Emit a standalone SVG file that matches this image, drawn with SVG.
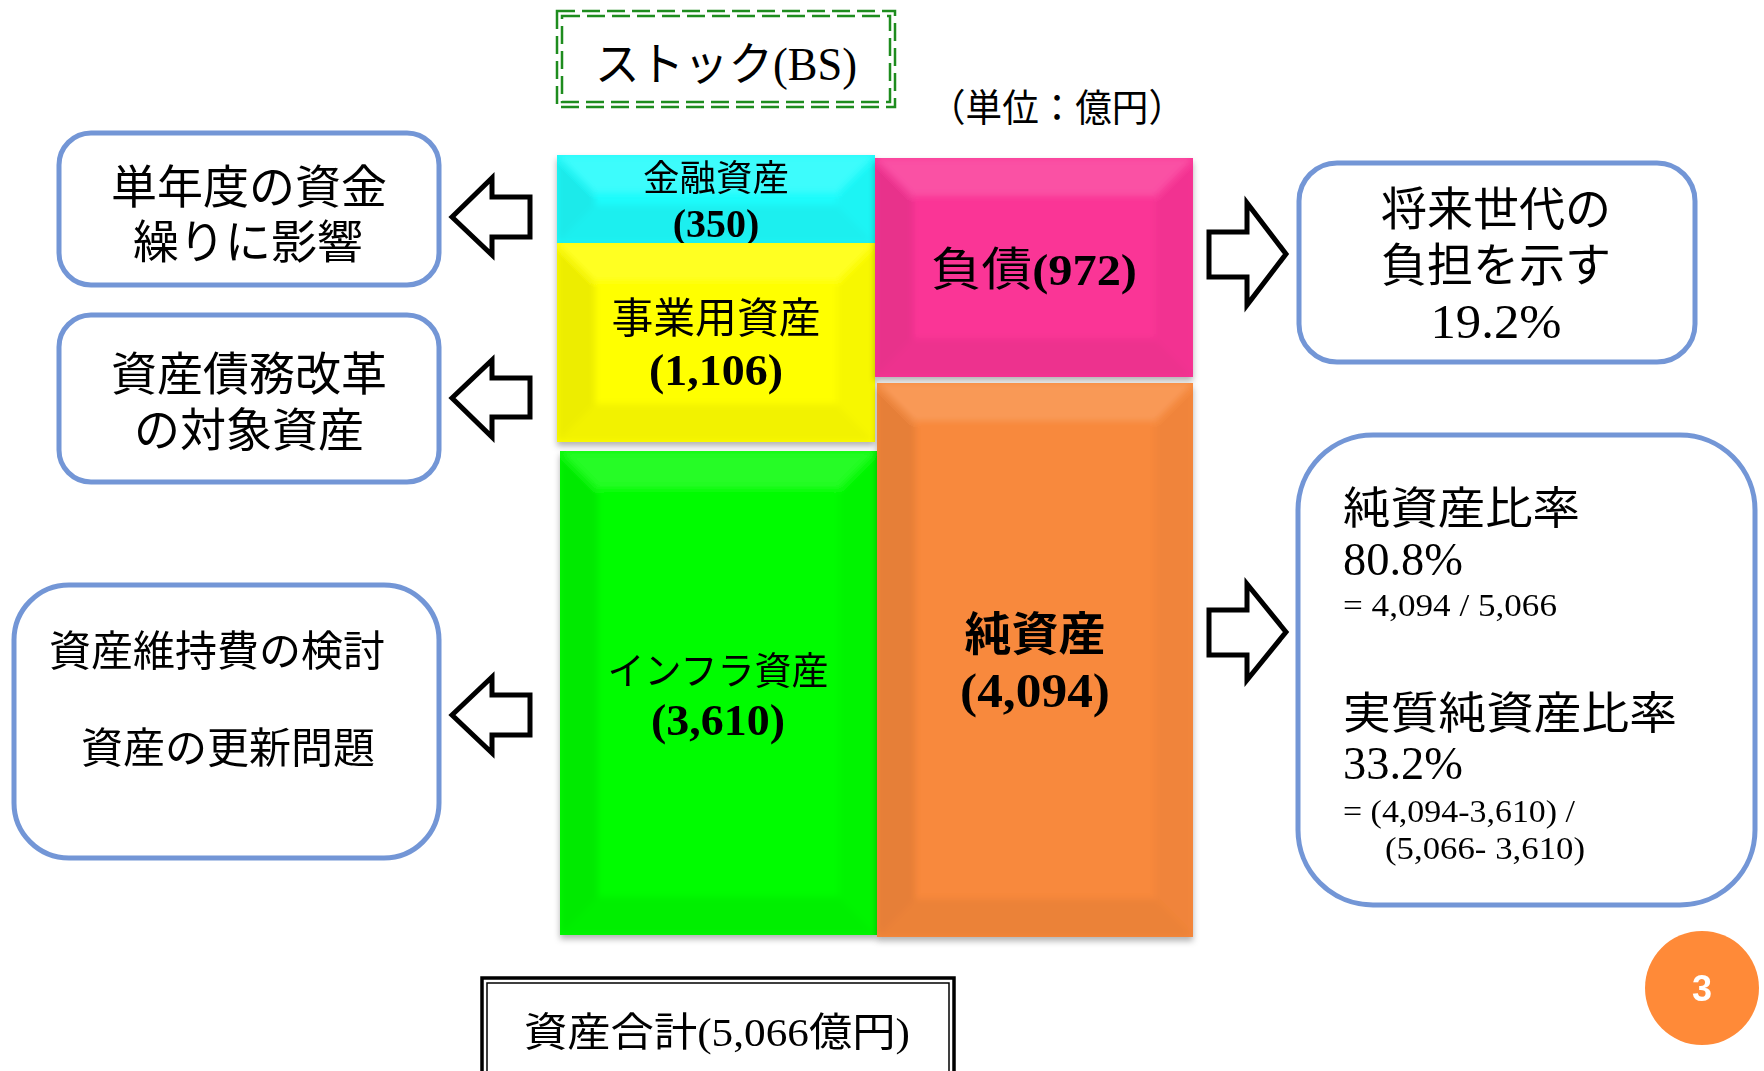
<svg xmlns="http://www.w3.org/2000/svg" width="1764" height="1071" viewBox="0 0 1764 1071">
<style>
text{font-family:"Liberation Serif","Noto Sans CJK JP",serif;fill:#000}
.note{fill:#fff;stroke:#7396D6;stroke-width:5}
.arr{fill:#fff;stroke:#000;stroke-width:5;stroke-linejoin:miter}
.bl{fill:#000;opacity:.07}
.br{fill:#000;opacity:.03}
.bt{fill:#fff;opacity:.14}
.bb{fill:#000;opacity:.05}
.bev{filter:url(#soft)}
.num{font-weight:bold}
.dash{fill:none;stroke:#1E8C1E;stroke-width:2.5;stroke-dasharray:18 7}
</style>
<defs>
<filter id="sh" x="-10%" y="-10%" width="120%" height="120%">
<feDropShadow dx="0" dy="4" stdDeviation="3" flood-color="#000" flood-opacity="0.3"/>
</filter>
<filter id="soft" x="-5%" y="-5%" width="110%" height="110%">
<feGaussianBlur stdDeviation="3"/>
</filter>
<clipPath id="c1"><rect x="557" y="155" width="318" height="88"/></clipPath>
<clipPath id="c2"><rect x="557" y="243" width="318" height="199"/></clipPath>
<clipPath id="c3"><rect x="560" y="451" width="317" height="484"/></clipPath>
<clipPath id="c4"><rect x="875" y="158" width="318" height="219"/></clipPath>
<clipPath id="c5"><rect x="877" y="383" width="316" height="554"/></clipPath>
</defs>
<rect width="1764" height="1071" fill="#fff"/>

<g id="title">
<rect class="dash" x="557" y="11" width="338" height="96"/>
<rect class="dash" x="562" y="16" width="328" height="86"/>
<text x="726" y="80" font-size="46" text-anchor="middle" textLength="262" lengthAdjust="spacingAndGlyphs">ストック(BS)</text>
</g>
<g id="unit">
<text x="1057" y="121" font-size="38" text-anchor="middle" textLength="256" lengthAdjust="spacingAndGlyphs">（単位：億円）</text>
</g>

<g id="kinyu" filter="url(#sh)">
<rect x="557" y="155" width="318" height="88" fill="#1CFCFC"/>
<g clip-path="url(#c1)"><g class="bev">
<polygon class="bl" points="557,155 595,193 595,205 557,243"/>
<polygon class="bt" points="557,155 875,155 837,193 595,193"/>
<polygon class="br" points="875,155 875,243 837,205 837,193"/>
<polygon class="bb" points="557,243 875,243 837,205 595,205"/>
</g></g>
<text x="716" y="191" font-size="36" text-anchor="middle" textLength="146" lengthAdjust="spacingAndGlyphs">金融資産</text>
<text class="num" x="716" y="237" font-size="40" text-anchor="middle">(350)</text>
</g>

<g id="jigyo" filter="url(#sh)">
<rect x="557" y="243" width="318" height="199" fill="#FFFF00"/>
<g clip-path="url(#c2)"><g class="bev">
<polygon class="bl" points="557,243 595,281 595,404 557,442"/>
<polygon class="bt" points="557,243 875,243 837,281 595,281"/>
<polygon class="br" points="875,243 875,442 837,404 837,281"/>
<polygon class="bb" points="557,442 875,442 837,404 595,404"/>
</g></g>
<text x="716" y="333" font-size="42" text-anchor="middle" textLength="209" lengthAdjust="spacingAndGlyphs">事業用資産</text>
<text class="num" x="716" y="385" font-size="44" text-anchor="middle" textLength="134" lengthAdjust="spacingAndGlyphs">(1,106)</text>
</g>

<g id="infra" filter="url(#sh)">
<rect x="560" y="451" width="317" height="484" fill="#02FC02"/>
<g clip-path="url(#c3)"><g class="bev">
<polygon class="bl" points="560,451 598,489 598,897 560,935"/>
<polygon class="bt" points="560,451 877,451 839,489 598,489"/>
<polygon class="br" points="877,451 877,935 839,897 839,489"/>
<polygon class="bb" points="560,935 877,935 839,897 598,897"/>
</g></g>
<text x="718" y="684" font-size="38" text-anchor="middle" textLength="221" lengthAdjust="spacingAndGlyphs">インフラ資産</text>
<text class="num" x="718" y="735" font-size="44" text-anchor="middle" textLength="134" lengthAdjust="spacingAndGlyphs">(3,610)</text>
</g>

<g id="fusai" filter="url(#sh)">
<rect x="875" y="158" width="318" height="219" fill="#FA3596"/>
<g clip-path="url(#c4)"><g class="bev">
<polygon class="bl" points="875,158 913,196 913,339 875,377"/>
<polygon class="bt" points="875,158 1193,158 1155,196 913,196"/>
<polygon class="br" points="1193,158 1193,377 1155,339 1155,196"/>
<polygon class="bb" points="875,377 1193,377 1155,339 913,339"/>
</g></g>
<text x="1034" y="285" font-size="46" text-anchor="middle" textLength="206" lengthAdjust="spacingAndGlyphs"><tspan>負債</tspan><tspan class="num" font-size="44">(972)</tspan></text>
</g>

<g id="junshisan" filter="url(#sh)">
<rect x="877" y="383" width="316" height="554" fill="#F8893C"/>
<g clip-path="url(#c5)"><g class="bev">
<polygon class="bl" points="877,383 915,421 915,899 877,937"/>
<polygon class="bt" points="877,383 1193,383 1155,421 915,421"/>
<polygon class="br" points="1193,383 1193,937 1155,899 1155,421"/>
<polygon class="bb" points="877,937 1193,937 1155,899 915,899"/>
</g></g>
<text class="num" x="1035" y="650" font-size="46" text-anchor="middle" textLength="141" lengthAdjust="spacingAndGlyphs">純資産</text>
<text class="num" x="1035" y="707" font-size="48" text-anchor="middle" textLength="150" lengthAdjust="spacingAndGlyphs">(4,094)</text>
</g>

<g id="note-shikin">
<rect class="note" x="59" y="133" width="380" height="152" rx="32"/>
<text x="249" y="203" font-size="46" text-anchor="middle">単年度の資金</text>
<text x="248" y="258" font-size="46" text-anchor="middle">繰りに影響</text>
</g>
<g id="note-kaikaku">
<rect class="note" x="59" y="315" width="380" height="167" rx="32"/>
<text x="249" y="390" font-size="46" text-anchor="middle">資産債務改革</text>
<text x="249" y="446" font-size="46" text-anchor="middle">の対象資産</text>
</g>
<g id="note-iji">
<rect class="note" x="14" y="585" width="425" height="273" rx="55"/>
<text x="217" y="666" font-size="42" text-anchor="middle">資産維持費の検討</text>
<text x="228" y="763" font-size="42" text-anchor="middle">資産の更新問題</text>
</g>
<g id="note-futan">
<rect class="note" x="1299" y="163" width="396" height="199" rx="38"/>
<text x="1496" y="225" font-size="46" text-anchor="middle">将来世代の</text>
<text x="1496" y="281" font-size="46" text-anchor="middle">負担を示す</text>
<text x="1496" y="338" font-size="48" text-anchor="middle" textLength="131" lengthAdjust="spacingAndGlyphs">19.2%</text>
</g>
<g id="note-hiritsu">
<rect class="note" x="1298" y="435" width="457" height="470" rx="75"/>
<text x="1343" y="524" font-size="44" textLength="237" lengthAdjust="spacingAndGlyphs">純資産比率</text>
<text x="1343" y="575" font-size="46" textLength="120" lengthAdjust="spacingAndGlyphs">80.8%</text>
<text x="1343" y="616" font-size="32" textLength="214" lengthAdjust="spacingAndGlyphs">= 4,094 / 5,066</text>
<text x="1343" y="729" font-size="44" textLength="334" lengthAdjust="spacingAndGlyphs">実質純資産比率</text>
<text x="1343" y="779" font-size="46" textLength="120" lengthAdjust="spacingAndGlyphs">33.2%</text>
<text x="1343" y="822" font-size="32" textLength="232" lengthAdjust="spacingAndGlyphs">= (4,094-3,610) /</text>
<text x="1385" y="859" font-size="32" textLength="200" lengthAdjust="spacingAndGlyphs">(5,066- 3,610)</text>
</g>

<g id="total">
<rect x="482" y="978" width="472" height="110" fill="#fff" stroke="#000" stroke-width="3.5"/>
<rect x="487" y="983" width="462" height="100" fill="none" stroke="#000" stroke-width="1.5"/>
<text x="717" y="1046" font-size="40" text-anchor="middle" textLength="386" lengthAdjust="spacingAndGlyphs">資産合計(5,066億円)</text>
</g>

<g id="page">
<circle cx="1702" cy="988" r="57" fill="#FF8A38"/>
<text x="1702" y="1001" font-size="36" text-anchor="middle" font-weight="bold" style="font-family:'Liberation Sans',Arial,sans-serif;fill:#fff">3</text>
</g>

<g id="connectors">
<path class="arr" d="M452,217 L492,178 L492,197 L530,197 L530,237 L492,237 L492,255 Z"/>
<path class="arr" d="M452,398 L492,360 L492,378 L530,378 L530,417 L492,417 L492,437 Z"/>
<path class="arr" d="M452,715 L492,677 L492,695 L530,695 L530,735 L492,735 L492,753 Z"/>
<path class="arr" d="M1286,254 L1247,203 L1247,232 L1209,232 L1209,277 L1247,277 L1247,305 Z"/>
<path class="arr" d="M1286,632 L1247,584 L1247,610 L1209,610 L1209,655 L1247,655 L1247,680 Z"/>
</g>
</svg>
